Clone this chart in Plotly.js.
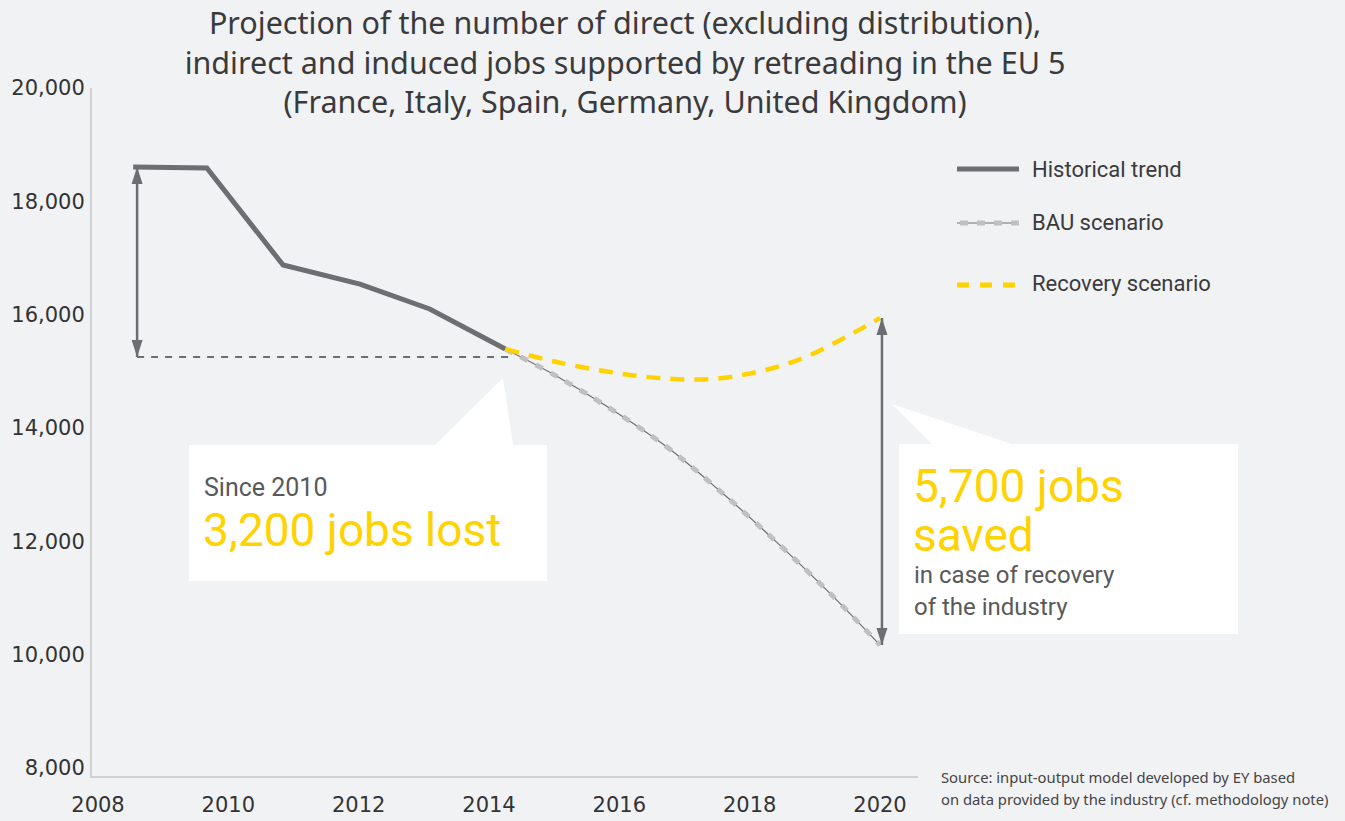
<!DOCTYPE html>
<html>
<head>
<meta charset="utf-8">
<script src="https://cdn.plot.ly/plotly-3.0.1.min.js"></script>
<style>html,body{margin:0;padding:0;background:#f1f2f4;}#chart{width:1345px;height:821px;}</style>
</head>
<body>
<div id="chart"></div>
<script>
// ---- data ----
const yearsHistorical = [2008.54, 2009.67, 2010.84, 2012.02, 2013.09, 2014.25];
const jobsHistorical  = [18606, 18588, 16876, 16541, 16100, 15394];

const yearsBAU = [2014.25, 2014.98, 2015.80, 2016.73, 2017.51, 2018.43, 2019.26, 2020.00];
const jobsBAU  = [15394, 14952, 14388, 13664, 12923, 11970, 11052, 10170];

const yearsRecovery = [2014.25, 2015.04, 2015.86, 2016.62, 2017.39, 2018.11, 2018.82, 2019.59, 2020.00];
const jobsRecovery  = [15394, 15164, 14988, 14882, 14864, 14988, 15235, 15676, 15941];

const baselineJobs = 15253;          // dashed reference level
const leftArrowYear = 2008.60;
const rightArrowYear = 2020.03;
const baselineEndYear = 2014.32;

const xTicks = [2008, 2010, 2012, 2014, 2016, 2018, 2020];
const yTicks = [8000, 10000, 12000, 14000, 16000, 18000, 20000];

const legendLabels = ['Historical trend', 'BAU scenario', 'Recovery scenario'];
const titleText = 'Projection of the number of direct (excluding distribution),<br>indirect and induced jobs supported by retreading in the EU 5<br>(France, Italy, Spain, Germany, United Kingdom)';

// ---- styling ----
const GRAY = '#6d6e71', LIGHT = '#bfc0c2', YELLOW = '#ffd200', BG = '#f1f2f4';
const FONT = 'Roboto, "Noto Sans", sans-serif';
const NOTO = '"Noto Sans", Roboto, sans-serif';

// plot area in pixels
const L = 92, R = 918, T = 88, B = 776, W = 1345, H = 821;
const px = x => (x - L) / (R - L);
const py = y => (B - y) / (B - T);

const traces = [
  {x: yearsHistorical, y: jobsHistorical, mode: 'lines', name: legendLabels[0],
   line: {color: GRAY, width: 5}, showlegend: false},
  {x: yearsBAU, y: jobsBAU, mode: 'lines', name: legendLabels[1],
   line: {color: GRAY, width: 1.2, shape: 'spline', smoothing: 1}, showlegend: false},
  {x: yearsBAU, y: jobsBAU, mode: 'lines', name: legendLabels[1],
   line: {color: LIGHT, width: 5, dash: '8px,9px', shape: 'spline', smoothing: 1}, showlegend: false},
  {x: yearsRecovery, y: jobsRecovery, mode: 'lines', name: legendLabels[2],
   line: {color: YELLOW, width: 4.5, dash: '14px,10px', shape: 'spline', smoothing: 1}, showlegend: false}
];

function arrowShapes(xv, yTop, yBottom) {
  return [
    {type: 'line', xref: 'x', yref: 'y', x0: xv, x1: xv, y0: yBottom, y1: yTop,
     line: {color: GRAY, width: 2.5}},
    {type: 'path', xref: 'x', yref: 'y', xsizemode: 'pixel', ysizemode: 'pixel',
     xanchor: xv, yanchor: yTop, path: 'M0,0 L-5.5,-17 L5.5,-17 Z',
     fillcolor: GRAY, line: {width: 0}},
    {type: 'path', xref: 'x', yref: 'y', xsizemode: 'pixel', ysizemode: 'pixel',
     xanchor: xv, yanchor: yBottom, path: 'M0,0 L-5.5,17 L5.5,17 Z',
     fillcolor: GRAY, line: {width: 0}}
  ];
}

function polyPath(points) {
  return 'M' + points.map(p => px(p[0]).toFixed(5) + ',' + py(p[1]).toFixed(5)).join(' L') + ' Z';
}

const shapes = [
  {type: 'line', xref: 'x', yref: 'y', x0: leftArrowYear, x1: baselineEndYear,
   y0: baselineJobs, y1: baselineJobs, line: {color: GRAY, width: 1.8, dash: '7px,7px'}, layer: 'below'},
  ...arrowShapes(leftArrowYear, jobsHistorical[0], baselineJobs),
  ...arrowShapes(rightArrowYear, jobsRecovery[jobsRecovery.length - 1], jobsBAU[jobsBAU.length - 1]),
  {type: 'path', xref: 'paper', yref: 'paper', fillcolor: '#ffffff', line: {width: 0},
   path: polyPath([[189,445],[435,445],[503,378],[513,445],[547,445],[547,581],[189,581]])},
  {type: 'path', xref: 'paper', yref: 'paper', fillcolor: '#ffffff', line: {width: 0},
   path: polyPath([[899,444],[932,444],[892,404],[1012,444],[1238,444],[1238,634],[899,634]])},
  {type: 'line', xref: 'paper', yref: 'paper', x0: px(957), x1: px(1019), y0: py(169), y1: py(169),
   line: {color: GRAY, width: 5}},
  {type: 'line', xref: 'paper', yref: 'paper', x0: px(957), x1: px(1019), y0: py(223), y1: py(223),
   line: {color: GRAY, width: 1.2}},
  {type: 'line', xref: 'paper', yref: 'paper', x0: px(960), x1: px(1019), y0: py(223), y1: py(223),
   line: {color: LIGHT, width: 5, dash: '8px,9px'}},
  {type: 'line', xref: 'paper', yref: 'paper', x0: px(957), x1: px(1019), y0: py(285), y1: py(285),
   line: {color: YELLOW, width: 5, dash: '12px,11px'}}
];

function txt(text, x, y, size, color, family) {
  return {text: text, xref: 'paper', yref: 'paper', x: px(x), y: py(y),
    xanchor: 'left', yanchor: 'middle', showarrow: false,
    font: {family: family || FONT, size: size, color: color}};
}

const annotations = [
  txt(legendLabels[0], 1030, 169, 22, '#3a3a3c'),
  txt(legendLabels[1], 1030, 222, 22, '#3a3a3c'),
  txt(legendLabels[2], 1030, 283, 22, '#3a3a3c'),
  txt('Since 2010', 202, 487, 25, '#58595b'),
  txt('3,200 jobs lost', 201, 530, 46, YELLOW),
  txt('5,700 jobs', 911, 486, 46, YELLOW),
  txt('saved', 911, 535, 46, YELLOW),
  txt('in case of recovery', 912, 575, 24, '#58595b'),
  txt('of the industry', 912, 607, 24, '#58595b'),
  txt('Source: input-output model developed by EY based', 939, 777, 14.8, '#444446', NOTO),
  txt('on data provided by the industry (cf. methodology note)', 939, 799, 14.8, '#444446', NOTO)
];

const layout = {
  width: W, height: H,
  paper_bgcolor: BG, plot_bgcolor: BG,
  margin: {l: L, r: W - R, t: T, b: H - B, pad: 0},
  showlegend: false,
  title: {text: titleText, x: 625 / W, xref: 'container', xanchor: 'center',
          y: 1 - 34 / H, yref: 'container', yanchor: 'top',
          font: {family: NOTO, size: 30.5, color: '#3a3a3c'}},
  xaxis: {range: [2007.908, 2020.583], tickvals: xTicks, ticktext: xTicks.map(String),
          showgrid: false, zeroline: false, showline: true, linecolor: '#d0d1d3', linewidth: 2,
          ticks: '', ticklabelstandoff: 9,
          tickfont: {family: '"DejaVu Sans", Verdana, sans-serif', size: 21, color: '#333335'}},
  yaxis: {range: [7860, 20000], tickvals: yTicks, ticktext: yTicks.map(v => v.toLocaleString('en-US')),
          showgrid: false, zeroline: false, showline: true, linecolor: '#d0d1d3', linewidth: 2,
          ticks: '', ticklabelstandoff: 1,
          tickfont: {family: '"DejaVu Sans", Verdana, sans-serif', size: 21, color: '#333335'}},
  shapes: shapes,
  annotations: annotations
};

Plotly.newPlot('chart', traces, layout, {displayModeBar: false, responsive: false});
</script>
</body>
</html>
